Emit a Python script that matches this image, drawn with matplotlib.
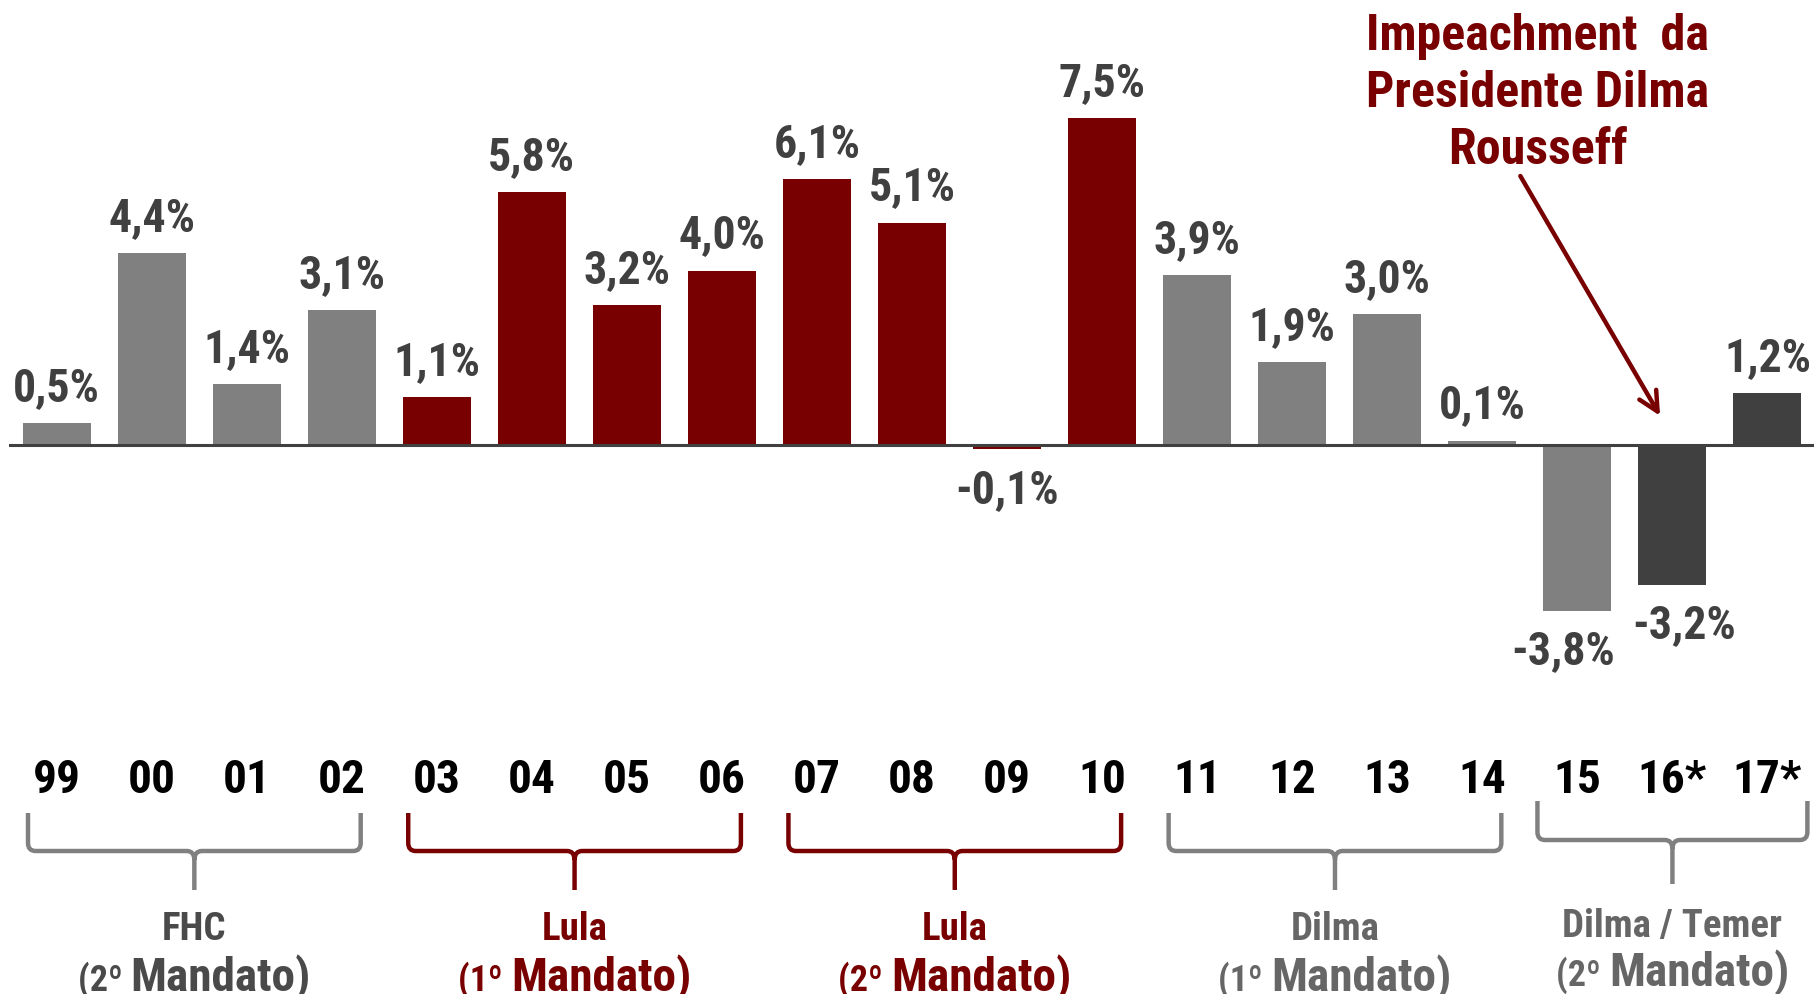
import matplotlib
matplotlib.use("Agg")
import matplotlib.pyplot as plt
import matplotlib.transforms as mtransforms
from matplotlib.path import Path
from matplotlib.patches import PathPatch
from matplotlib.offsetbox import TextArea, HPacker, AnnotationBbox

plt.rcParams['font.family'] = ['Roboto Condensed', 'DejaVu Sans']
plt.rcParams['font.weight'] = 'bold'

# data
anos = ['99', '00', '01', '02', '03', '04', '05', '06', '07', '08',
        '09', '10', '11', '12', '13', '14', '15', '16*', '17*']
pib = [0.5, 4.4, 1.4, 3.1, 1.1, 5.8, 3.2, 4.0, 6.1, 5.1,
       -0.1, 7.5, 3.9, 1.9, 3.0, 0.1, -3.8, -3.2, 1.2]
governo = ['FHC'] * 4 + ['Lula'] * 8 + ['Dilma'] * 5 + ['Temer'] * 2

grupos = ['FHC', 'Lula', 'Lula', 'Dilma', 'Dilma / Temer']
grupos_mandato = ['(2º ', '(1º ', '(2º ', '(1º ', '(2º ']
grupos_inicio = [0, 4, 8, 12, 16]
grupos_fim = [3, 7, 11, 15, 18]

CINZA = '#808080'
VERMELHO = '#780000'
ESCURO = '#404040'
cores_gov = {'FHC': CINZA, 'Lula': VERMELHO, 'Dilma': CINZA, 'Temer': ESCURO}
cores_grupo = [CINZA, VERMELHO, VERMELHO, CINZA, CINZA]
cores_texto = ['#4a4a4a', VERMELHO, VERMELHO, '#666666', '#666666']

W, H = 1815, 995
fig = plt.figure(figsize=(W / 100, H / 100), dpi=100)
ax = fig.add_axes([9 / W, 0, 1 - 9 / W, 1])
px = 43.6  # pixels per 1%
ax.set_xlim(-0.5, 18.5)
ax.set_ylim(-(H - 446) / px, 446 / px)
ax.axis('off')

x = list(range(len(anos)))
ax.bar(x, pib, width=0.715, color=[cores_gov[g] for g in governo], zorder=2)
ax.axhline(0, color=ESCURO, lw=2.2, zorder=3)

desloc = {16: -0.15, 17: 0.12}
for i, v in enumerate(pib):
    txt = f'{v:.1f}%'.replace('.', ',')
    xi = i + desloc.get(i, 0)
    if v >= 0:
        ax.text(xi, v + 0.53, txt, ha='center', va='baseline',
                fontsize=33, color=ESCURO)
    else:
        ax.text(xi, v - 1.2, txt, ha='center', va='baseline',
                fontsize=33, color=ESCURO)

# x in data, y in figure pixels (from top)
tr = mtransforms.blended_transform_factory(ax.transData, fig.transFigure)
def fy(p):
    return 1 - p / H

for i, a in enumerate(anos):
    ax.text(i, fy(793), a, transform=tr, ha='center', va='baseline',
            fontsize=34, color='black')

# chaves
for k in range(len(grupos)):
    if k == 4:
        x0 = grupos_inicio[k] - 0.42
        x1 = grupos_fim[k] + 0.42
        top, mid, tip = 802, 841, 885
    else:
        x0 = grupos_inicio[k] - 0.3
        x1 = grupos_fim[k] + 0.2
        top, mid, tip = 814, 852, 891
    xm = (x0 + x1) / 2
    r = 0.08
    verts = [(x0, fy(top)), (x0, fy(mid - 8)), (x0, fy(mid)), (x0 + r, fy(mid)),
             (xm - r, fy(mid)), (xm, fy(mid)), (xm, fy(mid + 9)),
             (xm, fy(tip))]
    codes = [Path.MOVETO, Path.LINETO, Path.CURVE3, Path.CURVE3,
             Path.LINETO, Path.CURVE3, Path.CURVE3, Path.LINETO]
    verts2 = [(x1, fy(top)), (x1, fy(mid - 8)), (x1, fy(mid)), (x1 - r, fy(mid)),
              (xm + r, fy(mid)), (xm, fy(mid)), (xm, fy(mid + 9))]
    codes2 = [Path.MOVETO, Path.LINETO, Path.CURVE3, Path.CURVE3,
              Path.LINETO, Path.CURVE3, Path.CURVE3]
    path = Path(verts + verts2, codes + codes2)
    ax.add_patch(PathPatch(path, transform=tr, fill=False,
                           edgecolor=cores_grupo[k], lw=3.2,
                           capstyle='butt', joinstyle='round'))

    ya = 937 if k == 4 else 940
    yb = 985 if k == 4 else 990
    ax.text(xm, fy(ya), grupos[k], transform=tr, ha='center', va='baseline',
            fontsize=28, color=cores_texto[k])
    caixa = HPacker(children=[
        TextArea(grupos_mandato[k], textprops=dict(fontsize=26, color=cores_texto[k], fontweight='bold')),
        TextArea('Mandato)', textprops=dict(fontsize=34, color=cores_texto[k], fontweight='bold')),
    ], align='baseline', pad=0, sep=0)
    ab = AnnotationBbox(caixa, (xm, fy(yb + 11)), xycoords=tr,
                        box_alignment=(0.5, 0), frameon=False, pad=0)
    ax.add_artist(ab)

# impeachment
linhas = ['Impeachment  da', 'Presidente Dilma', 'Rousseff']
for j, linha in enumerate(linhas):
    ax.text(15.58, fy(50 + 57 * j), linha, transform=tr, ha='center',
            va='baseline', fontsize=36, color=VERMELHO)
ax.annotate('', xy=(16.87, 0.67), xytext=(15.40, 6.17),
            arrowprops=dict(arrowstyle='->', color=VERMELHO, lw=3.2,
                            mutation_scale=35, shrinkA=0, shrinkB=0))

fig.savefig('out.png', dpi=100)
